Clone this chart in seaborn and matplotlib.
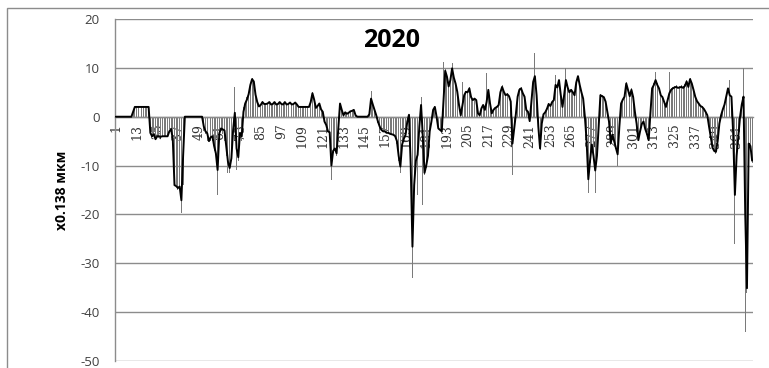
import numpy as np
import pandas as pd
import matplotlib
matplotlib.use("Agg")
import matplotlib.pyplot as plt
from matplotlib.patches import Rectangle
import seaborn as sns

# Daily displacement for 2020, in units of 0.138 um
# smoothed curve (black line), days 1..370
line_vals = [
    0, 0, 0, 0, 0, 0, 0, 0, 0, 0,
    1.0, 2, 2, 2, 2, 2, 2, 2, 2, 2.0,
    -3.3, -4.0, -3.6, -4.6, -4.0, -4.0, -4.1, -4.0, -4.0, -4.0,
    -4.0, -3.0, -2.5, -4.5, -14.0, -14.2, -14.6, -14.3, -17.1, -8.0,
    0, 0, 0, 0, 0, 0, 0, 0, 0, 0,
    0, -2.0, -3.0, -3.4, -5.0, -4.2, -4.0, -6.0, -7.5, -10.9,
    -3.4, -2.4, -2.6, -2.8, -6.0, -9.2, -10.5, -8.5, -2.7, 0.8,
    -6.5, -8.3, -3.3, -4.0, 1.0, 2.7, 3.5, 4.6, 6.5, 7.7,
    7.2, 4.5, 3.0, 2.1, 2.4, 3.0, 2.6, 2.6, 2.7, 3.0,
    2.5, 2.6, 3.0, 2.5, 2.6, 3.0, 2.6, 2.5, 3.0, 2.5,
    2.6, 2.9, 2.5, 2.6, 2.9, 2.5, 2.0, 2.0, 2.0, 2.0,
    2.0, 2.0, 2.0, 3.0, 4.8, 3.5, 1.8, 2.2, 2.7, 1.5,
    1.0, -1.0, -1.7, -3.0, -3.2, -10.0, -7.0, -6.5, -7.5, -2.4,
    2.7, 1.4, 0.3, 0.9, 0.6, 0.8, 1.1, 1.2, 1.4, 0.3,
    0, 0, 0, 0, 0, 0, 0, 0.5, 3.7, 2.5,
    1.4, 0.3, -1.0, -2.0, -2.7, -3.0, -3.0, -3.3, -3.3, -3.5,
    -3.6, -3.7, -4.0, -5.0, -8.0, -10.2, -5.7, -4.5, -3.7, -1.0,
    0.4, -10.0, -26.6, -14.0, -9.0, -7.8, -2.0, 2.4, -4.0, -11.5,
    -10.0, -8.0, -3.0, -1.0, 1.4, 2.0, 0.0, -2.4, -2.7, -3.0,
    3.4, 9.4, 8.2, 6.2, 7.5, 9.9, 8.0, 6.8, 5.1, 2.4,
    0.3, 2.4, 4.4, 5.1, 5.0, 5.8, 4.0, 3.4, 3.7, 3.4,
    0.7, 0.3, 1.7, 2.4, 1.4, 3.0, 5.5, 2.7, 0.7, 1.4,
    1.8, 2.0, 2.4, 5.0, 6.1, 5.1, 4.4, 4.6, 4.2, 3.1,
    -5.5, -2.4, 0.6, 4.1, 5.5, 5.8, 4.8, 4.1, 1.4, 1.0,
    -0.9, 3.1, 7.1, 8.3, 4.4, -2.0, -6.5, -1.4, 0.5, 0.9,
    1.6, 2.6, 2.2, 3.0, 3.4, 6.5, 6.0, 7.5, 4.5, 2.0,
    4.5, 7.5, 6.0, 5.0, 5.5, 5.0, 4.4, 7.0, 8.3, 6.5,
    5.0, 3.7, 0.0, -5.0, -12.8, -9.0, -5.7, -8.0, -11.0, -8.0,
    -2.0, 4.4, 4.2, 4.0, 3.1, 1.0, -1.0, -5.4, -3.7, -5.0,
    -6.4, -7.7, -2.0, 2.7, 3.5, 4.1, 6.8, 5.5, 4.2, 5.5,
    4.0, 1.0, -1.4, -4.8, -3.0, -1.5, -1.0, -2.5, -3.5, -4.8,
    0.7, 5.8, 6.5, 7.5, 6.5, 5.8, 4.4, 4.0, 3.0, 2.0,
    3.4, 4.8, 5.5, 5.8, 6.0, 6.1, 5.9, 6.0, 6.1, 5.9,
    6.3, 7.2, 6.1, 7.7, 6.8, 5.5, 4.1, 3.2, 2.7, 2.2,
    2.0, 1.6, 1.0, 0.3, -2.0, -4.1, -6.3, -7.0, -7.2, -5.0,
    -1.4, 0.3, 1.5, 2.5, 4.1, 5.8, 4.4, 4.1, -3.4, -16.0,
    -8.0, -4.0, 0.0, 2.5, 4.1, -20.0, -35.1, -5.5, -6.0, -9.0,
]

# daily readings (thin grey columns), days 1..370
bar_vals = [
    0, 0, 0, 0, 0, 0, 0, 0, 0, 0,
    1.5, 2, 2, 2, 2, 2, 2, 2, 2, 2,
    -3.5, -4.2, -3.8, -4.8, -4.0, -4.2, -4.0, -4.1, -3.9, -4.0,
    -4.2, -2.6, -2.4, -5.0, -14.2, -14.0, -15.0, -14.5, -19.8, -14.0,
    0, 0, 0, 0, 0, 0, 0, 0, 0, 0,
    0, -3.0, -3.5, -5.0, -6.0, -5.0, -5.0, -7.0, -7.5, -16.0,
    -4.0, -3.0, -3.5, -5.0, -8.0, -11.6, -11.5, -9.0, -2.0, 6.1,
    -11.0, -9.0, -3.0, -5.0, 2.0, 3.0, 4.0, 5.0, 7.0, 8.0,
    7.5, 5.0, 3.0, 2.2, 2.5, 3.2, 2.6, 2.7, 2.8, 3.1,
    2.6, 2.7, 3.1, 2.6, 2.7, 3.1, 2.7, 2.6, 3.1, 2.6,
    2.7, 3.0, 2.6, 2.7, 3.0, 2.6, 2.1, 2.0, 2.1, 2.0,
    2.1, 2.0, 2.1, 3.2, 5.0, 3.6, 1.9, 2.3, 2.8, 1.6,
    1.0, -1.2, -1.8, -3.2, -3.5, -13.0, -7.5, -6.8, -8.0, -2.6,
    3.0, 1.5, 0.4, 1.0, 0.7, 0.9, 1.2, 1.3, 1.5, 0.4,
    0, 0, 0, 0, 0, 0, 0, 0.6, 5.2, 2.7,
    1.5, 0.4, -1.2, -2.2, -2.9, -3.2, -3.1, -3.4, -3.5, -3.6,
    -3.8, -3.9, -4.2, -5.5, -9.0, -11.5, -6.0, -4.8, -3.9, -1.2,
    0.5, -12.0, -33.0, -15.0, -9.5, -16.0, -2.2, 4.1, -18.0, -12.0,
    -10.5, -8.5, -3.2, -1.0, 1.5, 2.2, 0.0, -2.6, -2.9, -3.2,
    11.2, 9.8, 8.5, 6.5, 7.8, 11.0, 8.3, 7.0, 5.3, 2.5,
    0.3, 7.1, 4.6, 5.3, 5.2, 6.0, 4.2, 3.5, 3.9, 3.5,
    0.8, 0.3, 1.8, 2.5, 1.5, 8.9, 5.7, 2.8, 0.7, 1.5,
    1.9, 2.1, 2.5, 5.2, 6.4, 5.3, 4.6, 4.8, 4.4, 3.2,
    -12.0, -2.6, 0.6, 4.3, 5.8, 6.0, 5.0, 4.3, 1.5, 1.0,
    -1.0, 3.2, 7.4, 13.0, 4.6, -2.2, -6.8, -1.5, 0.5, 1.0,
    1.7, 2.8, 2.3, 3.2, 3.6, 8.5, 6.2, 7.8, 4.7, 2.1,
    4.7, 10.0, 6.2, 5.2, 5.7, 5.2, 4.6, 7.3, 12.0, 6.8,
    5.2, 3.9, 0.0, -5.2, -15.7, -9.5, -6.0, -8.3, -15.7, -8.4,
    -2.1, 4.6, 4.4, 4.2, 3.3, 1.0, -1.1, -5.7, -3.9, -5.2,
    -6.6, -10.0, -2.1, 2.8, 3.7, 4.3, 7.1, 5.8, 4.4, 5.8,
    4.2, 1.0, -1.5, -5.0, -3.1, -1.6, -1.0, -2.6, -3.7, -5.0,
    0.7, 6.1, 6.8, 9.2, 6.8, 6.1, 4.6, 4.2, 3.1, 2.1,
    3.6, 9.2, 5.8, 6.1, 6.3, 6.4, 6.2, 6.3, 6.4, 6.2,
    6.6, 7.6, 6.4, 8.0, 7.1, 5.8, 4.3, 3.4, 2.8, 2.3,
    2.1, 1.7, 1.0, 0.3, -2.1, -4.3, -6.6, -7.3, -7.6, -5.2,
    -1.5, 0.3, 1.6, 2.6, 4.3, 6.1, 7.6, 4.3, -3.6, -26.0,
    -8.4, -4.2, 0.0, 2.6, 9.9, -44.0, -36.0, -5.8, -6.3, -9.5,
]

days = np.arange(1, len(line_vals) + 1)
tick_days = list(range(1, 362, 12))
y_ticks = [-50, -40, -30, -20, -10, 0, 10, 20]
title_text = "2020"
ylabel_text = "x0.138 мкм"

df = pd.DataFrame({"day": days, "line": line_vals, "bar": bar_vals})

sns.set_style("white")
plt.rcParams["font.family"] = ["Open Sans", "DejaVu Sans"]

fig = plt.figure(figsize=(7.69, 3.68), dpi=100)
ax = fig.add_axes([115 / 769, 1 - 361 / 368, 638 / 769, 342 / 368])
ax.set_axisbelow(True)

sns.barplot(data=df, x="day", y="bar", native_scale=True, width=0.55,
            color="#7a7a7a", saturation=1, errorbar=None, linewidth=0,
            ax=ax, zorder=1)
sns.lineplot(data=df, x="day", y="line", color="black", linewidth=1.4,
             estimator=None, sort=False, ax=ax, zorder=3)

# spines first: moving a spine rebuilds the ticks
for side in ("top", "right"):
    ax.spines[side].set_visible(False)
ax.spines["left"].set_color("#8c8c8c")
ax.spines["left"].set_linewidth(1.0)
ax.spines["bottom"].set_position(("data", 0))
ax.spines["bottom"].set_color("#8c8c8c")
ax.spines["bottom"].set_linewidth(1.0)

ax.set_xlim(0.5, len(days) + 0.5)
ax.set_ylim(-50, 20)
ax.set_yticks(y_ticks)
ax.set_yticklabels([str(v) for v in y_ticks])
ax.set_xticks(tick_days)
ax.set_xticklabels([str(d) for d in tick_days])
ax.tick_params(axis="x", length=0, pad=5, labelrotation=90, labelsize=9,
               labelcolor="#333333")
ax.tick_params(axis="y", length=0, pad=11, labelsize=9.5, labelcolor="#404040")
for lbl in ax.get_xticklabels():
    lbl.set_fontfamily("DejaVu Serif")

ax.set_xlabel("")
ax.set_ylabel("")
ax.yaxis.grid(True, color="#8c8c8c", linewidth=1.0)
ax.xaxis.grid(False)

ax.text(0.434, 0.936, title_text, transform=ax.transAxes, ha="center",
        va="center", fontsize=18, fontweight="bold", color="black")
fig.text(62 / 769, 1 - 190 / 368, ylabel_text, rotation=90, ha="center",
         va="center", fontsize=10, fontweight="bold", color="black")

# chart frame
fig.patches.append(Rectangle((7 / 769, -0.1), 1.2, 1.1 - 8 / 368,
                             transform=fig.transFigure, fill=False,
                             edgecolor="#8c8c8c", linewidth=1.0))

fig.savefig("out.png", dpi=100)
